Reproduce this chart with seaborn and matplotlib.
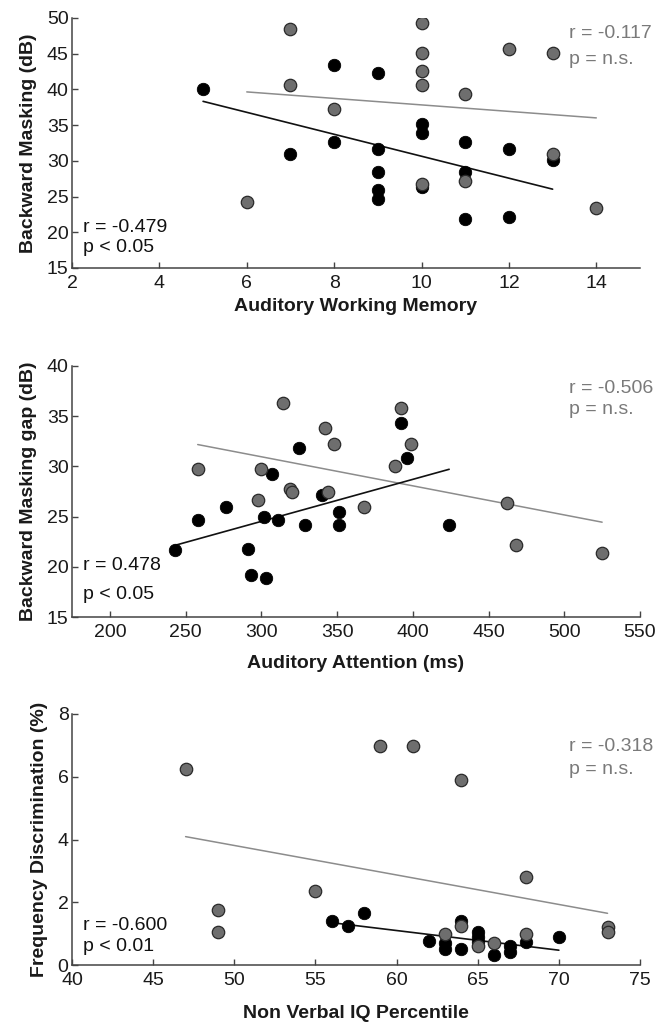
import numpy as np
import pandas as pd
import matplotlib
matplotlib.use("Agg")
import matplotlib.pyplot as plt
import seaborn as sns

# ---------------- data ----------------
# Panel 1: Auditory Working Memory vs Backward Masking (dB)
p1_black_x = [5, 7, 8, 8, 9, 9, 9, 9, 9, 10, 10, 10, 11, 11, 11, 12, 12, 13]
p1_black_y = [40.1, 31.0, 43.4, 32.6, 42.3, 31.7, 28.4, 25.9, 24.7, 35.1, 33.9, 26.4,
              32.6, 28.5, 21.8, 31.7, 22.2, 30.1]
p1_gray_x = [6, 7, 7, 8, 10, 10, 10, 10, 10, 11, 11, 12, 13, 13, 14]
p1_gray_y = [24.3, 48.5, 40.6, 37.3, 49.3, 45.1, 42.6, 40.6, 26.8, 39.3, 27.2, 45.6,
             45.1, 30.9, 23.4]

# Panel 2: Auditory Attention (ms) vs Backward Masking gap (dB)
p2_black_x = [243, 258, 277, 291, 293, 303, 302, 307, 311, 325, 329, 340, 351, 351,
              392, 396, 424]
p2_black_y = [21.7, 24.7, 26.0, 21.8, 19.2, 18.85, 25.0, 29.2, 24.7, 31.8, 24.2, 27.2,
              25.5, 24.2, 34.3, 30.8, 24.2]
p2_gray_x = [258, 314, 300, 298, 319, 320, 344, 342, 348, 368, 388, 392, 399, 462,
             468, 525]
p2_gray_y = [29.7, 36.3, 29.7, 26.7, 27.7, 27.5, 27.5, 33.8, 32.2, 26.0, 30.0, 35.8,
             32.2, 26.4, 22.2, 21.4]

# Panel 3: Non Verbal IQ Percentile vs Frequency Discrimination (%)
p3_black_x = [56, 57, 58, 62, 63, 63, 64, 64, 65, 65, 65, 66, 67, 67, 68, 70]
p3_black_y = [1.41, 1.24, 1.65, 0.76, 0.69, 0.50, 1.41, 0.50, 1.06, 0.90, 0.74, 0.32,
              0.59, 0.43, 0.74, 0.88]
p3_gray_x = [47, 49, 49, 55, 59, 61, 64, 64, 63, 65, 66, 68, 68, 73, 73]
p3_gray_y = [6.24, 1.76, 1.06, 2.35, 6.97, 6.97, 5.89, 1.24, 0.99, 0.59, 0.69, 2.79,
             0.99, 1.20, 1.06]

x_labels = ["Auditory Working Memory", "Auditory Attention (ms)", "Non Verbal IQ Percentile"]
y_labels = ["Backward Masking (dB)", "Backward Masking gap (dB)", "Frequency Discrimination (%)"]
black_stats = [("r = -0.479", "p < 0.05"), ("r = 0.478", "p < 0.05"), ("r = -0.600", "p < 0.01")]
gray_stats = [("r = -0.117", "p = n.s."), ("r = -0.506", "p = n.s."), ("r = -0.318", "p = n.s.")]

x_limits = [(2, 15), (175, 550), (40, 75)]
y_limits = [(15, 50), (15, 40), (0, 8)]
x_ticks = [[2, 4, 6, 8, 10, 12, 14], [200, 250, 300, 350, 400, 450, 500, 550],
           [40, 45, 50, 55, 60, 65, 70, 75]]
y_ticks = [[15, 20, 25, 30, 35, 40, 45, 50], [15, 20, 25, 30, 35, 40], [0, 2, 4, 6, 8]]

panels = [
    (p1_black_x, p1_black_y, p1_gray_x, p1_gray_y),
    (p2_black_x, p2_black_y, p2_gray_x, p2_gray_y),
    (p3_black_x, p3_black_y, p3_gray_x, p3_gray_y),
]

# ---------------- style ----------------
sns.set_theme(style="ticks")
plt.rcParams["font.family"] = ["Liberation Sans", "DejaVu Sans"]

fig = plt.figure(figsize=(6.58, 10.23), dpi=100)
W, H = 658, 1023
axes_px = [(72, 18, 640, 268), (72, 366, 640, 617), (72, 714, 640, 965)]
xlabel_gap_px = [30, 38, 40]

black_text_pos = [(0.164, 0.080), (0.207, 0.088), (0.159, 0.073)]
gray_text_pos = [(0.940, 0.836), (0.912, 0.825), (0.870, 0.780)]

GRAY_FILL = "#6e6e6e"
GRAY_LINE = "#8c8c8c"
TEXT_GRAY = "#7a7a7a"
FS = 14

for i, (bx, by, gx, gy) in enumerate(panels):
    l, t, r, b = axes_px[i]
    ax = fig.add_axes([l / W, 1 - b / H, (r - l) / W, (b - t) / H])
    dfb = pd.DataFrame({"x": bx, "y": by})
    dfg = pd.DataFrame({"x": gx, "y": gy})

    sns.regplot(data=dfg, x="x", y="y", ax=ax, scatter=False, ci=None,
                line_kws=dict(color=GRAY_LINE, lw=1.1))
    sns.regplot(data=dfb, x="x", y="y", ax=ax, scatter=False, ci=None,
                line_kws=dict(color="#111111", lw=1.2))
    sns.scatterplot(data=dfb, x="x", y="y", ax=ax, color="black", s=80,
                    edgecolor="black", linewidth=0.6, zorder=3)
    sns.scatterplot(data=dfg, x="x", y="y", ax=ax, color=GRAY_FILL, s=80,
                    edgecolor="#2a2a2a", linewidth=0.9, zorder=4)

    ax.set_xlim(*x_limits[i])
    ax.set_ylim(*y_limits[i])
    ax.set_xticks(x_ticks[i])
    ax.set_yticks(y_ticks[i])
    ax.tick_params(direction="in", length=4, width=1, colors="#444444",
                   labelsize=FS, labelcolor="#1a1a1a")
    ax.tick_params(axis="x", pad=5)
    ax.tick_params(axis="y", pad=2.5)
    for s in ["top", "right"]:
        ax.spines[s].set_visible(False)
    for s in ["left", "bottom"]:
        ax.spines[s].set_color("#444444")
        ax.spines[s].set_linewidth(1.1)
    ax.set_xlabel(x_labels[i], fontsize=FS, fontweight="bold", color="#1a1a1a")
    ax.xaxis.set_label_coords(0.5, -xlabel_gap_px[i] / (b - t))
    ax.set_ylabel(y_labels[i], fontsize=FS, fontweight="bold", color="#1a1a1a", labelpad=7)

    (r_txt, p_txt) = black_stats[i]
    ax.text(0.019, black_text_pos[i][0], r_txt, transform=ax.transAxes, fontsize=FS,
            color="#111111", va="center", ha="left")
    ax.text(0.019, black_text_pos[i][1], p_txt, transform=ax.transAxes, fontsize=FS,
            color="#111111", va="center", ha="left")
    (r_txt, p_txt) = gray_stats[i]
    ax.text(0.8755, gray_text_pos[i][0], r_txt, transform=ax.transAxes, fontsize=FS,
            color=TEXT_GRAY, va="center", ha="left", clip_on=False)
    ax.text(0.8755, gray_text_pos[i][1], p_txt, transform=ax.transAxes, fontsize=FS,
            color=TEXT_GRAY, va="center", ha="left", clip_on=False)

fig.savefig("out.png", dpi=100, facecolor="white")
